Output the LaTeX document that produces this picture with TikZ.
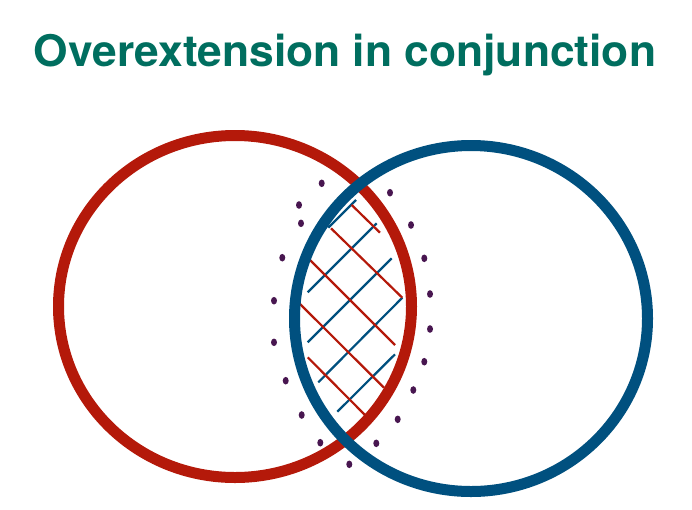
\documentclass[tikz,border=0pt]{standalone}
\usepackage{fontspec}
\setmainfont{TeX Gyre Heros}
\definecolor{redc}{RGB}{180,25,10}
\definecolor{bluec}{RGB}{0,80,127}
\definecolor{titlec}{RGB}{0,110,95}
\definecolor{dotc}{RGB}{72,22,80}
\tikzset{
  ring/.style={line width=11pt},
  hatch/.style={line width=2.2pt},
  dotmark/.style={fill=dotc, draw=none},
}
\begin{document}
\begin{tikzpicture}[x=1pt,y=-1pt]
\useasboundingbox (0,0) rectangle (692,509);
\node[anchor=base, text=titlec, xscale=1.02, inner sep=0pt, font=\fontsize{43.5}{48}\selectfont\bfseries] (title) at (345,66) {Overextension in conjunction};
% hatching blue
\draw[hatch, bluec] (328.3,227.7) -- (356,200);
\draw[hatch, bluec] (307.7,292.3) -- (376.7,223.3);
\draw[hatch, bluec] (307.7,342.3) -- (391.7,258.3);
\draw[hatch, bluec] (318.3,382.3) -- (402.3,297.7);
\draw[hatch, bluec] (337.3,411.7) -- (395,354.3);
% hatching red
\draw[hatch, redc] (351.7,205) -- (380,232.7);
\draw[hatch, redc] (331,228.3) -- (402.3,297.7);
\draw[hatch, redc] (310,260) -- (395,345);
\draw[hatch, redc] (299.3,303.3) -- (384,387.7);
\draw[hatch, redc] (307.7,357.3) -- (365,415);
% circles
\draw[ring, redc] (235,306.5) ellipse [x radius=176.5, y radius=171];
\draw[ring, bluec] (471,318.5) ellipse [x radius=176.5, y radius=173];
% dots
\foreach \x/\y in {321.7/183.3, 390/192.7, 299/205, 301/223.3, 411/225, 282.3/257.7, 424.3/258.3, 274/300.7, 430/294, 274/342.3, 430/329, 285.7/380.7, 424.3/361.7, 301.7/415, 413.3/390, 320.3/442.7, 397.7/419.3, 376.3/443.3, 349.3/464.3}
  \fill[dotmark] (\x,\y) ellipse [x radius=3, y radius=3.8];
\end{tikzpicture}
\end{document}
